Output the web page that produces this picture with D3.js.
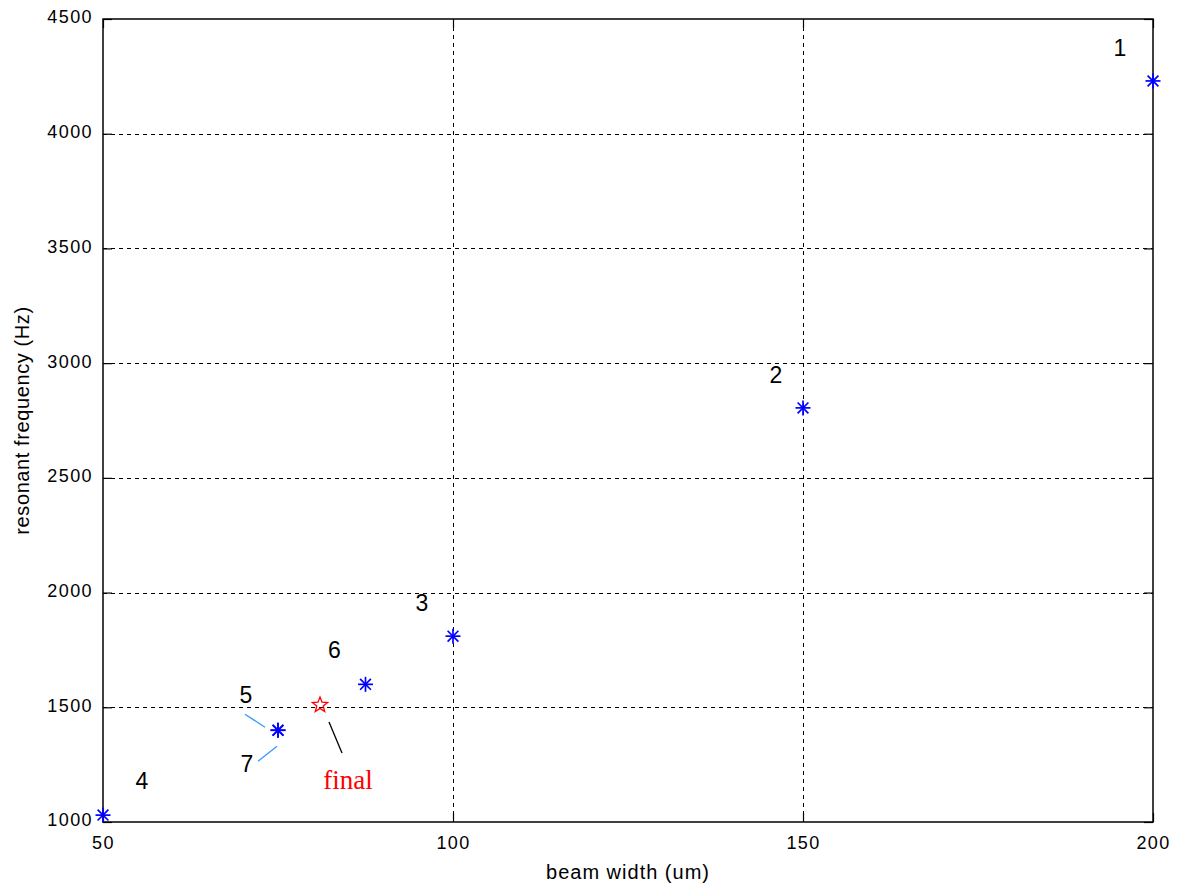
<!DOCTYPE html>
<html>
<head>
<meta charset="utf-8">
<script src="https://cdn.jsdelivr.net/npm/d3@7"></script>
<style>
  body { margin: 0; background: #fff; }
  svg { display: block; font-family: "Liberation Sans", Arial, sans-serif; }
</style>
</head>
<body>
<svg id="chart" width="1180" height="888"></svg>
<script>
// Design points: beam width (um) vs resonant frequency (Hz)
const designIds = ["1", "2", "3", "4", "5", "6", "7"];
const beamWidth = [200, 150, 100, 50, 75, 87.5, 75];
const resonantFreq = [4230, 2805, 1810, 1030, 1400, 1600, 1400];

// Chosen design
const finalWidth = 81;
const finalFreq = 1510;

const xTicks = [50, 100, 150, 200];
const yTicks = [1000, 1500, 2000, 2500, 3000, 3500, 4000, 4500];

const svg = d3.select("#chart");
const plotL = 103, plotR = 1153, plotT = 19, plotB = 822;

const x = d3.scaleLinear().domain([50, 200]).range([plotL, plotR]);
const y = d3.scaleLinear().domain([1000, 4500]).range([plotB, plotT]);

// Dashed grid
const grid = svg.append("g").attr("stroke", "#000").attr("stroke-width", 1)
  .attr("stroke-dasharray", "4,4").attr("shape-rendering", "crispEdges");
grid.selectAll(".gx").data(xTicks.slice(1, -1)).join("line")
  .attr("x1", d => Math.round(x(d)) + 0.5).attr("x2", d => Math.round(x(d)) + 0.5)
  .attr("y1", plotT).attr("y2", plotB);
grid.selectAll(".gy").data(yTicks.slice(1, -1)).join("line")
  .attr("y1", d => Math.round(y(d)) + 0.5).attr("y2", d => Math.round(y(d)) + 0.5)
  .attr("x1", plotL).attr("x2", plotR);

// Axes with inward ticks
const xAxisB = d3.axisBottom(x).tickValues(xTicks).tickSize(-9).tickPadding(14).tickFormat(d3.format("d"));
const xAxisT = d3.axisTop(x).tickValues(xTicks).tickSize(-9).tickFormat("");
const yAxisL = d3.axisLeft(y).tickValues(yTicks).tickSize(-9).tickPadding(10).tickFormat(d3.format("d"));
const yAxisR = d3.axisRight(y).tickValues(yTicks).tickSize(-9).tickFormat("");

function styleAxis(g) {
  g.attr("font-family", null).attr("font-size", null);
  g.select(".domain").remove();
  g.selectAll("line").attr("stroke", "#000").attr("stroke-width", 1.2);
  g.selectAll("text").style("font-size", "18px").style("letter-spacing", "1.4px").attr("fill", "#000");
}
svg.append("g").attr("transform", `translate(0,${plotB})`).call(xAxisB).call(styleAxis);
svg.append("g").attr("transform", `translate(0,${plotT})`).call(xAxisT).call(styleAxis);
svg.append("g").attr("transform", `translate(${plotL},0)`).call(yAxisL).call(styleAxis)
  .selectAll("text").attr("dy", "0.22em");
svg.append("g").attr("transform", `translate(${plotR},0)`).call(yAxisR).call(styleAxis);

// Plot box
svg.append("rect").attr("x", plotL).attr("y", plotT).attr("width", plotR - plotL).attr("height", plotB - plotT)
  .attr("fill", "none").attr("stroke", "#000").attr("stroke-width", 1.5);

// Axis titles
svg.append("text").attr("x", (plotL + plotR) / 2).attr("y", 879).attr("text-anchor", "middle")
  .style("font-size", "20px").style("letter-spacing", "1px").text("beam width (um)");
svg.append("text").attr("transform", `translate(29,${(plotT + plotB) / 2}) rotate(-90)`)
  .attr("text-anchor", "middle").style("font-size", "20px").style("letter-spacing", "0.6px")
  .text("resonant frequency (Hz)");

// Asterisk markers
const pts = designIds.map((id, i) => ({ id, w: beamWidth[i], f: resonantFreq[i] }));
const r = 7.5;
const marks = svg.append("g").attr("stroke", "#0000ff").attr("stroke-width", 1.7);
pts.forEach(p => {
  const cx = x(p.w), cy = y(p.f);
  const g = marks.append("g").attr("transform", `translate(${cx},${cy})`);
  g.append("line").attr("x1", -r).attr("x2", r).attr("y1", 0).attr("y2", 0);
  g.append("line").attr("y1", -r).attr("y2", r).attr("x1", 0).attr("x2", 0);
  const d = r * 0.72;
  g.append("line").attr("x1", -d).attr("y1", -d).attr("x2", d).attr("y2", d);
  g.append("line").attr("x1", -d).attr("y1", d).attr("x2", d).attr("y2", -d);
});

// Pentagram for the chosen design
const star = [];
for (let i = 0; i < 10; i++) {
  const rad = i % 2 === 0 ? 8 : 3.4;
  const a = -Math.PI / 2 + i * Math.PI / 5;
  star.push([rad * Math.cos(a), rad * Math.sin(a)]);
}
svg.append("path").attr("d", "M" + star.map(p => p.join(",")).join("L") + "Z")
  .attr("transform", `translate(${x(finalWidth)},${y(finalFreq)})`)
  .attr("fill", "none").attr("stroke", "#ff0000").attr("stroke-width", 1.3);

// Point labels, offset from each point
const labelOffsets = {
  "1": [-33, -33], "2": [-27, -33], "3": [-31, -33], "4": [39, -34],
  "5": [-32, -35], "6": [-31, -34]
};
const labels = svg.append("g").style("font-size", "23px").attr("fill", "#000").attr("text-anchor", "middle");
pts.forEach(p => {
  if (p.id === "7") return;
  const o = labelOffsets[p.id];
  labels.append("text").attr("x", x(p.w) + o[0]).attr("y", y(p.f) + o[1] + 8).text(p.id);
});
labels.append("text").attr("x", x(75) - 31).attr("y", y(1400) + 42).text("7");

// Leader lines
svg.append("line").attr("x1", x(75) - 33).attr("y1", y(1400) - 16).attr("x2", x(75) - 13).attr("y2", y(1400) - 3)
  .attr("stroke", "#3399ff").attr("stroke-width", 1.3);
svg.append("line").attr("x1", x(75) - 20).attr("y1", y(1400) + 31).attr("x2", x(75) - 1).attr("y2", y(1400) + 16)
  .attr("stroke", "#3399ff").attr("stroke-width", 1.3);
svg.append("line").attr("x1", x(finalWidth) + 9).attr("y1", y(finalFreq) + 17).attr("x2", x(finalWidth) + 22).attr("y2", y(finalFreq) + 48)
  .attr("stroke", "#000").attr("stroke-width", 1.3);

svg.append("text").attr("x", x(finalWidth) + 28).attr("y", y(finalFreq) + 84)
  .attr("text-anchor", "middle").style("font-family", "'Liberation Serif', 'DejaVu Serif', serif")
  .style("font-size", "27px").attr("fill", "#ff0000").text("final");
</script>
</body>
</html>
